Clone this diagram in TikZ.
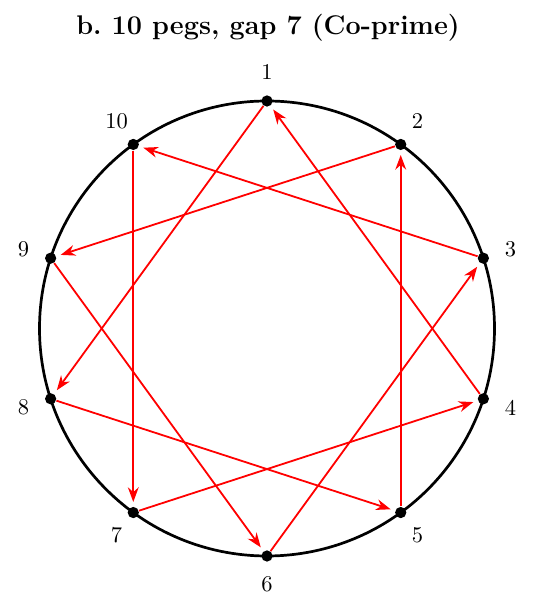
\documentclass[tikz,border=0pt]{standalone}
\usetikzlibrary{arrows.meta,calc}
\begin{document}
\begin{tikzpicture}[x=0.4444pt,y=0.4444pt,
  peg/.style={circle,fill=black,inner sep=0pt,minimum size=5pt},
  plabel/.style={font=\normalsize},
  chord/.style={red,line width=0.8pt,-{Stealth[length=6.5pt,width=4.8pt]},shorten >=2pt}]
\useasboundingbox (0,0) rectangle (544,612);
\coordinate (c) at (267,283.5);
\node[font=\large\bfseries] (title) at (268,584) {b.\ 10 pegs, gap 7 (Co-prime)};
\draw[line width=1.2pt] (c) circle [radius=101.1pt];
\foreach \k in {1,...,10}{
  \pgfmathsetmacro{\ang}{90-36*(\k-1)}
  \node[peg] (p\k) at ($(c)+(\ang:227.5)$) {};
  \node[plabel] (l\k) at ($(c)+(\ang:256)$) {\k};
}
\foreach \a/\b in {1/8,8/5,5/2,2/9,9/6,6/3,3/10,10/7,7/4,4/1}{
  \draw[chord] (p\a) -- (p\b);
}
\end{tikzpicture}
\end{document}
